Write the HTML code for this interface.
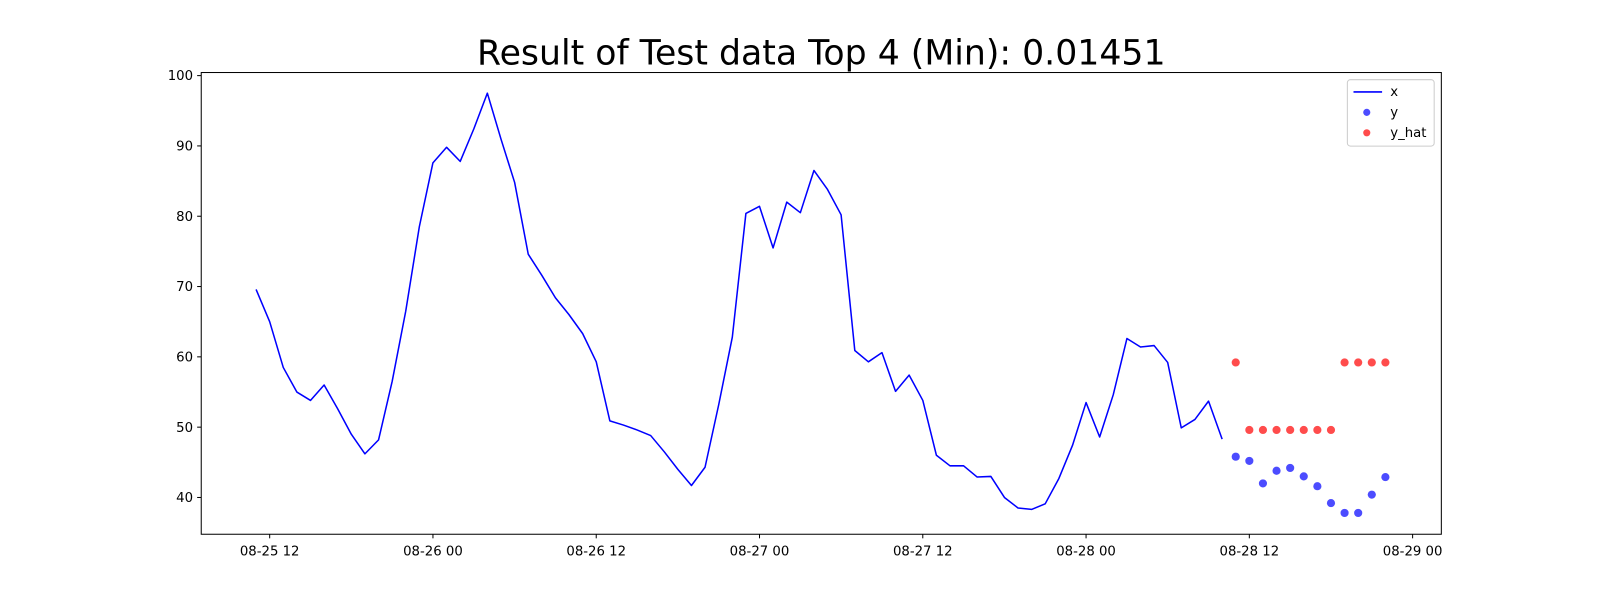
<!DOCTYPE html>
<html><head><meta charset="utf-8"><style>
html,body{margin:0;padding:0;background:#fff;overflow:hidden;}
svg text{font-family:"DejaVu Sans","Liberation Sans",sans-serif;}
</style></head><body>
<svg id="chart" width="1600" height="600" xmlns="http://www.w3.org/2000/svg">
<g transform="scale(1.0215)">
<text x="804" y="63" text-anchor="middle" font-size="34" textLength="674" lengthAdjust="spacingAndGlyphs">Result of Test data Top 4 (Min): 0.01451</text>
<g id="plot"></g>
<rect x="197" y="71" width="1214" height="452" fill="none" stroke="#000" stroke-width="1"/>
<g>
<rect x="1319" y="78" width="85" height="65" rx="3" fill="#fff" stroke="#ccc"/>
<line x1="1325" y1="90" x2="1353" y2="90" stroke="#00f" stroke-width="1.5"/>
<text x="1361" y="94" font-size="13">x</text>
<circle cx="1338" cy="110" r="3.5" fill="#00f" fill-opacity="0.7"/>
<text x="1361" y="114" font-size="13">y</text>
<circle cx="1338" cy="130" r="3.5" fill="#f00" fill-opacity="0.7"/>
<text x="1361" y="134" font-size="13">y_hat</text>
</g>
</g>
</svg>
<script>
// hours relative to 08-25 00:00
const xStartHour = 11;
const xValues = [69.6,65,58.5,55,53.8,56,52.6,49,46.2,48.2,56.5,66.5,78.5,87.6,89.8,87.8,92.4,97.5,91,84.8,74.6,71.6,68.4,66,63.3,59.3,50.9,50.3,49.6,48.8,46.5,44,41.7,44.3,53.2,62.8,80.4,81.4,75.5,82,80.5,86.5,83.8,80.2,60.9,59.3,60.6,55.1,57.4,53.8,46,44.5,44.5,42.9,43,40,38.5,38.3,39.1,42.7,47.4,53.5,48.6,54.6,62.6,61.4,61.6,59.2,49.9,51.1,53.7,48.3];
const yStartHour = 83;
const yValues = [45.8,45.2,42,43.8,44.2,43,41.6,39.2,37.8,37.8,40.4,42.9];
const yHatValues = [59.2,49.6,49.6,49.6,49.6,49.6,49.6,49.6,59.2,59.2,59.2,59.2];
const yTicks = [40,50,60,70,80,90,100];
const xTickHours = [12,24,36,48,60,72,84,96];
const xTickLabels = ["08-25 12","08-26 00","08-26 12","08-27 00","08-27 12","08-28 00","08-28 12","08-29 00"];

const NS="http://www.w3.org/2000/svg";
const g=document.getElementById('plot');
function X(h){return 264+(h-12)*13.32;}
function Y(v){return 487-(v-40)*6.883;}
function mk(t,a){const e=document.createElementNS(NS,t);for(const k in a)e.setAttribute(k,a[k]);g.appendChild(e);return e;}

yTicks.forEach(v=>{
  const t=mk('line',{x1:193,x2:197,y1:Y(v),y2:Y(v),stroke:'#000'});
  
  
  const l=mk('text',{x:189,y:Y(v)+4.5,'text-anchor':'end','font-size':13});
  
  
  l.textContent=v;
});
xTickHours.forEach((h,i)=>{
  const t=mk('line',{x1:X(h),x2:X(h),y1:523,y2:527,stroke:'#000'});
  
  
  const l=mk('text',{x:X(h),y:544,'text-anchor':'middle','font-size':13});
  
  
  l.textContent=xTickLabels[i];
});
const pts=xValues.map((v,i)=>X(xStartHour+i).toFixed(1)+','+Y(v).toFixed(1)).join(' ');
const pl=mk('polyline',{points:pts,fill:'none',stroke:'#00f','stroke-width':1.5,'stroke-linejoin':'round'});


yValues.forEach((v,i)=>{
  const c=mk('circle',{cx:X(yStartHour+i),cy:Y(v),r:4,fill:'#00f','fill-opacity':0.7});
  
  
});
yHatValues.forEach((v,i)=>{
  const c=mk('circle',{cx:X(yStartHour+i),cy:Y(v),r:4,fill:'#f00','fill-opacity':0.7});
  
  
});
</script>
</body></html>
